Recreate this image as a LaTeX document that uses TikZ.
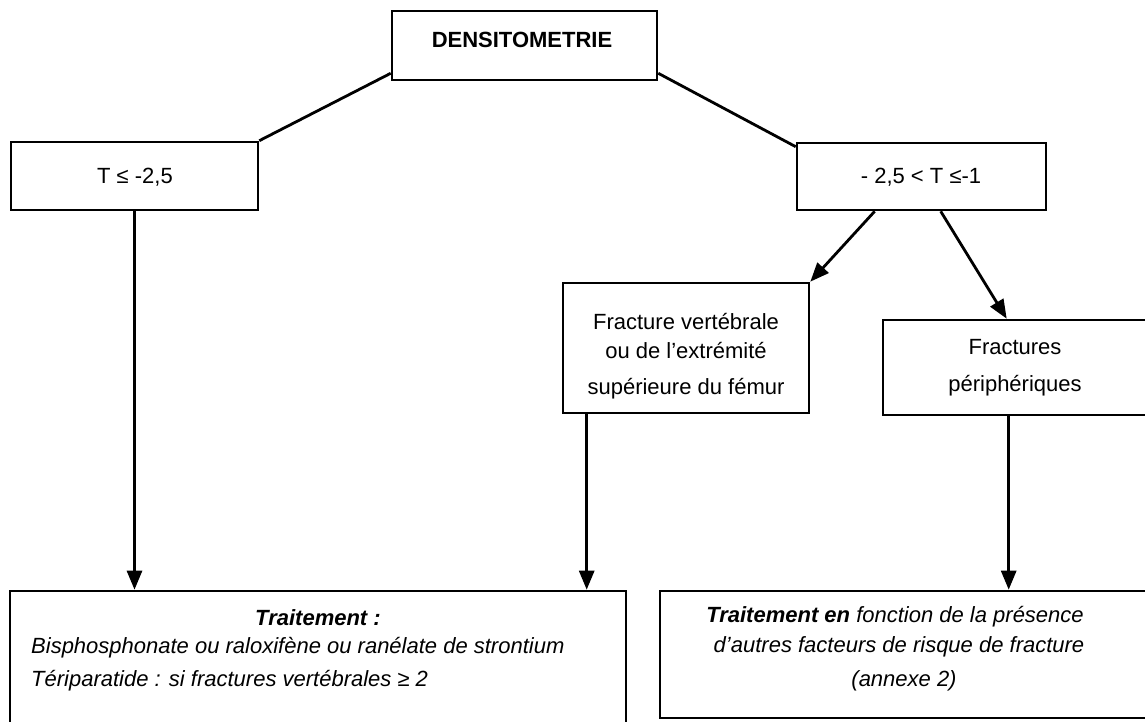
\documentclass[tikz,border=0pt]{standalone}
\usepackage{fontspec}
\setmainfont{Liberation Sans}
\usetikzlibrary{arrows.meta,calc}
\begin{document}
\begin{tikzpicture}[x=1pt,y=-1pt,
  box/.style={draw, line width=2.6pt, rectangle, inner sep=0pt},
  txt/.style={inner sep=0pt, font=\fontsize{22}{26}\selectfont},
  link/.style={line width=2.8pt},
  arr/.style={line width=2.8pt, -{Triangle[length=19pt,width=15pt]}}]
\useasboundingbox (0,0) rectangle (1145,722);
\clip (0,0) rectangle (1145,722);
% boxes
\node[box, minimum width=265pt, minimum height=69pt] (dens) at (524.5,45.5) {};
\node[box, minimum width=247pt, minimum height=68pt] (tneg) at (134.5,176) {};
\node[box, minimum width=249pt, minimum height=67pt] (tmid) at (921.5,176.5) {};
\node[box, minimum width=246pt, minimum height=130pt] (fv) at (686,348) {};
\node[box, minimum width=267pt, minimum height=95pt] (fp) at (1016.5,367.5) {};
\node[box, minimum width=616pt, minimum height=149pt] (trt) at (318,665.5) {};
\node[box, minimum width=490pt, minimum height=127pt] (trt2) at (905,654.5) {};
% texts
\node[txt, anchor=base, font=\fontsize{22}{26}\selectfont\bfseries] (densl) at (522,48) {DENSITOMETRIE};
\node[txt, anchor=base] (tnegl) at (135,183) {T ≤ -2,5};
\node[txt, anchor=base] (tmidl) at (921,183) {- 2,5 < T ≤-1};
\node[txt, align=center] (fvl) at (686,356) {Fracture vertébrale\\[3pt] ou de l'extrémité\\[10pt] supérieure du fémur};
\node[txt, align=center] (fpl) at (1015,368) {Fractures\\[11pt] périphériques};
\node[txt, anchor=base, font=\fontsize{22}{26}\selectfont\bfseries\itshape] (trtl1) at (318,625) {Traitement :};
\node[txt, anchor=base west, font=\fontsize{22}{26}\selectfont\itshape] (trtl2) at (31,653) {Bisphosphonate ou raloxifène ou ranélate de strontium};
\node[txt, anchor=base west, font=\fontsize{22}{26}\selectfont\itshape] (trtl3) at (31,686) {Tériparatide : si fractures vertébrales ≥ 2};
\node[txt, anchor=base, font=\fontsize{22}{26}\selectfont\itshape] (trt2l1) at (895,622) {\textbf{Traitement en} fonction de la présence};
\node[txt, anchor=base, font=\fontsize{22}{26}\selectfont\itshape] (trt2l2) at (899,652) {d’autres facteurs de risque de fracture};
\node[txt, anchor=base, font=\fontsize{22}{26}\selectfont\itshape] (trt2l3) at (904,686) {(annexe 2)};
% connectors
\draw[link] ($(dens.south west)+(0,-8)$) -- (tneg.north east);
\draw[link] ($(dens.south east)+(0,-8)$) -- ($(tmid.north west)+(0,5)$);
\draw[arr] (tneg.south) -- (tneg.south |- trt.north);
\coordinate (ta) at ($(tmid.south west)+(79,0)$);
\coordinate (tb) at ($(tmid.south west)+(145,0)$);
\coordinate (fpin) at ($(fp.north west)+(125,0)$);
\draw[arr] (ta) -- (fv.north east);
\draw[arr] (tb) -- (fpin);
\coordinate (fvd) at ($(fv.south west)+(25,0)$);
\coordinate (fpd) at ($(fp.south west)+(127,0)$);
\draw[arr] (fvd) -- (fvd |- trt.north);
\draw[arr] (fpd) -- (fpd |- trt2.north);
\end{tikzpicture}
\end{document}
